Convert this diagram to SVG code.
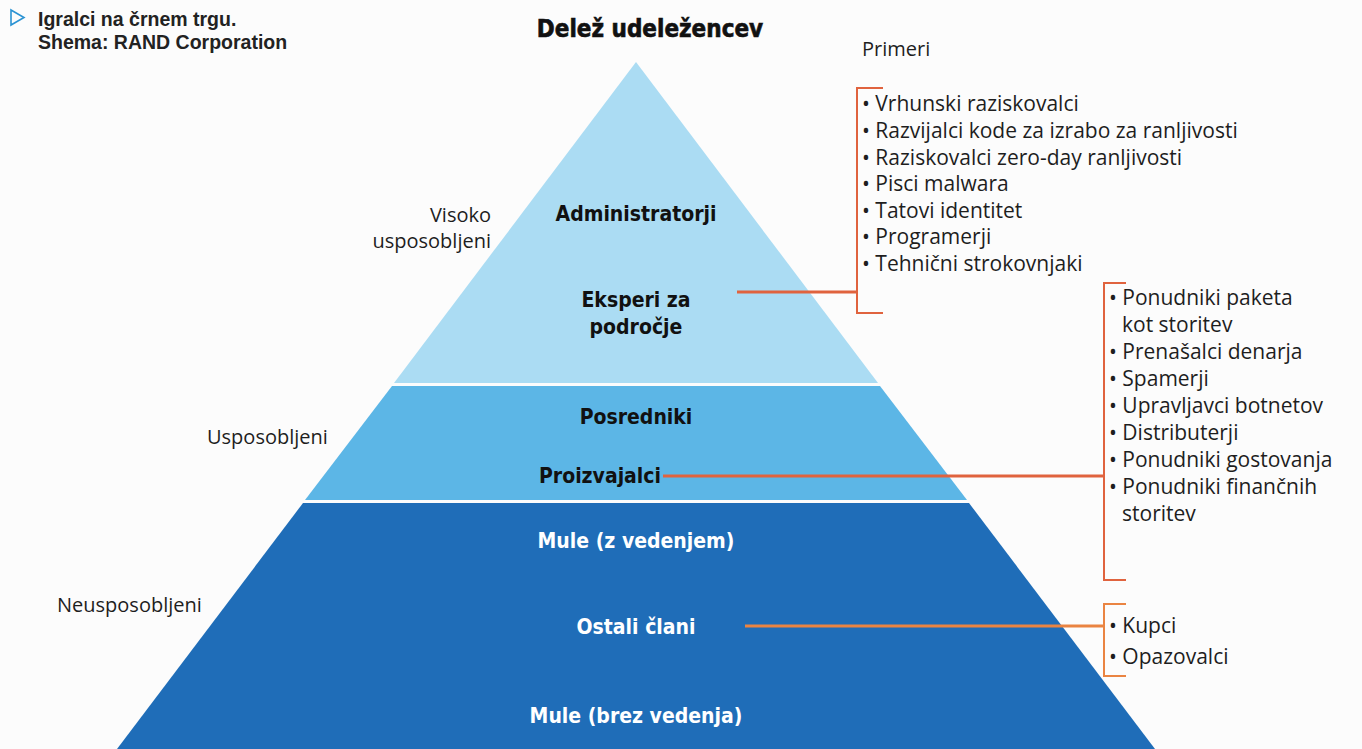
<svg xmlns="http://www.w3.org/2000/svg" width="1362" height="749" viewBox="0 0 1362 749">
<style>
.bg{fill:#fcfcfc}
.t1{fill:#abdcf3}
.t2{fill:#5cb6e6}
.t3{fill:#1f6db8}
.lbl{font-family:'DejaVu Sans Condensed','DejaVu Sans',sans-serif;font-stretch:condensed;font-weight:bold;font-size:21px;text-anchor:middle;fill:#111}
.wlbl{fill:#ffffff}
.reg{font-family:'Open Sans','Liberation Sans',sans-serif;font-size:20px;fill:#1e1e1e}
.lst{font-size:21px}
.cap{font-family:'Liberation Sans',Arial,sans-serif;font-weight:bold;font-size:19.5px;fill:#222}
.con{stroke:#e0633e;stroke-width:3;fill:none}
.con3{stroke:#ea8442;stroke-width:3;fill:none}
.br{stroke:#e0633e;stroke-width:2;fill:none}
.br3{stroke:#ea8442;stroke-width:2;fill:none}
</style>
<rect class="bg" x="0" y="0" width="1362" height="749"/>
<g id="caption">
<polygon points="11,10 24,17.5 11,25" fill="none" stroke="#2b93d3" stroke-width="1.6"/>
<text class="cap" x="38" y="26">Igralci na črnem trgu.</text>
<text class="cap" x="38" y="49">Shema: RAND Corporation</text>
</g>
<g id="header">
<text class="lbl" x="650" y="37" style="font-size:24px;stroke:#111;stroke-width:0.6">Delež udeležencev</text>
<text class="reg" x="862" y="56">Primeri</text>
</g>
<g id="tier-top">
<polygon class="t1" points="636,62 878,383 394,383"/>
<text class="lbl" x="636" y="221">Administratorji</text>
<text class="lbl" x="636" y="307">Eksperi za</text>
<text class="lbl" x="636" y="334">področje</text>
</g>
<g id="tier-mid">
<polygon class="t2" points="392,386 880,386 967,500 305,500"/>
<text class="lbl" x="636" y="424">Posredniki</text>
<text class="lbl" x="600" y="483">Proizvajalci</text>
</g>
<g id="tier-bottom">
<polygon class="t3" points="303,503 969,503 1155,749 117,749"/>
<text class="lbl wlbl" x="636" y="548">Mule (z vedenjem)</text>
<text class="lbl wlbl" x="636" y="634">Ostali člani</text>
<text class="lbl wlbl" x="636" y="723">Mule (brez vedenja)</text>
</g>
<g id="side-labels">
<text class="reg" x="491" y="222" text-anchor="end">Visoko</text>
<text class="reg" x="491" y="248" text-anchor="end">usposobljeni</text>
<text class="reg" x="207" y="444">Usposobljeni</text>
<text class="reg" x="57" y="612">Neusposobljeni</text>
</g>
<g id="connectors">
<line class="con" x1="737" y1="292" x2="857" y2="292"/>
<line class="con" x1="663" y1="476" x2="1104" y2="476"/>
<line class="con3" x1="745" y1="626" x2="1104" y2="626"/>
</g>
<g id="examples-1">
<polyline class="br" points="883,88 857,88 857,313 883,313"/>
<text class="reg lst" x="862" y="111">• Vrhunski raziskovalci</text>
<text class="reg lst" x="862" y="138">• Razvijalci kode za izrabo za ranljivosti</text>
<text class="reg lst" x="862" y="165">• Raziskovalci zero-day ranljivosti</text>
<text class="reg lst" x="862" y="191">• Pisci malwara</text>
<text class="reg lst" x="862" y="218">• Tatovi identitet</text>
<text class="reg lst" x="862" y="244">• Programerji</text>
<text class="reg lst" x="862" y="271">• Tehnični strokovnjaki</text>
</g>
<g id="examples-2">
<polyline class="br" points="1126,283 1104,283 1104,580 1126,580"/>
<text class="reg lst" x="1109" y="305">• Ponudniki paketa</text>
<text class="reg lst" x="1122" y="332">kot storitev</text>
<text class="reg lst" x="1109" y="359">• Prenašalci denarja</text>
<text class="reg lst" x="1109" y="386">• Spamerji</text>
<text class="reg lst" x="1109" y="413">• Upravljavci botnetov</text>
<text class="reg lst" x="1109" y="440">• Distributerji</text>
<text class="reg lst" x="1109" y="467">• Ponudniki gostovanja</text>
<text class="reg lst" x="1109" y="494">• Ponudniki finančnih</text>
<text class="reg lst" x="1122" y="521">storitev</text>
</g>
<g id="examples-3">
<polyline class="br3" points="1126,604 1104,604 1104,676 1126,676"/>
<text class="reg lst" x="1109" y="633">• Kupci</text>
<text class="reg lst" x="1109" y="664">• Opazovalci</text>
</g>
</svg>
